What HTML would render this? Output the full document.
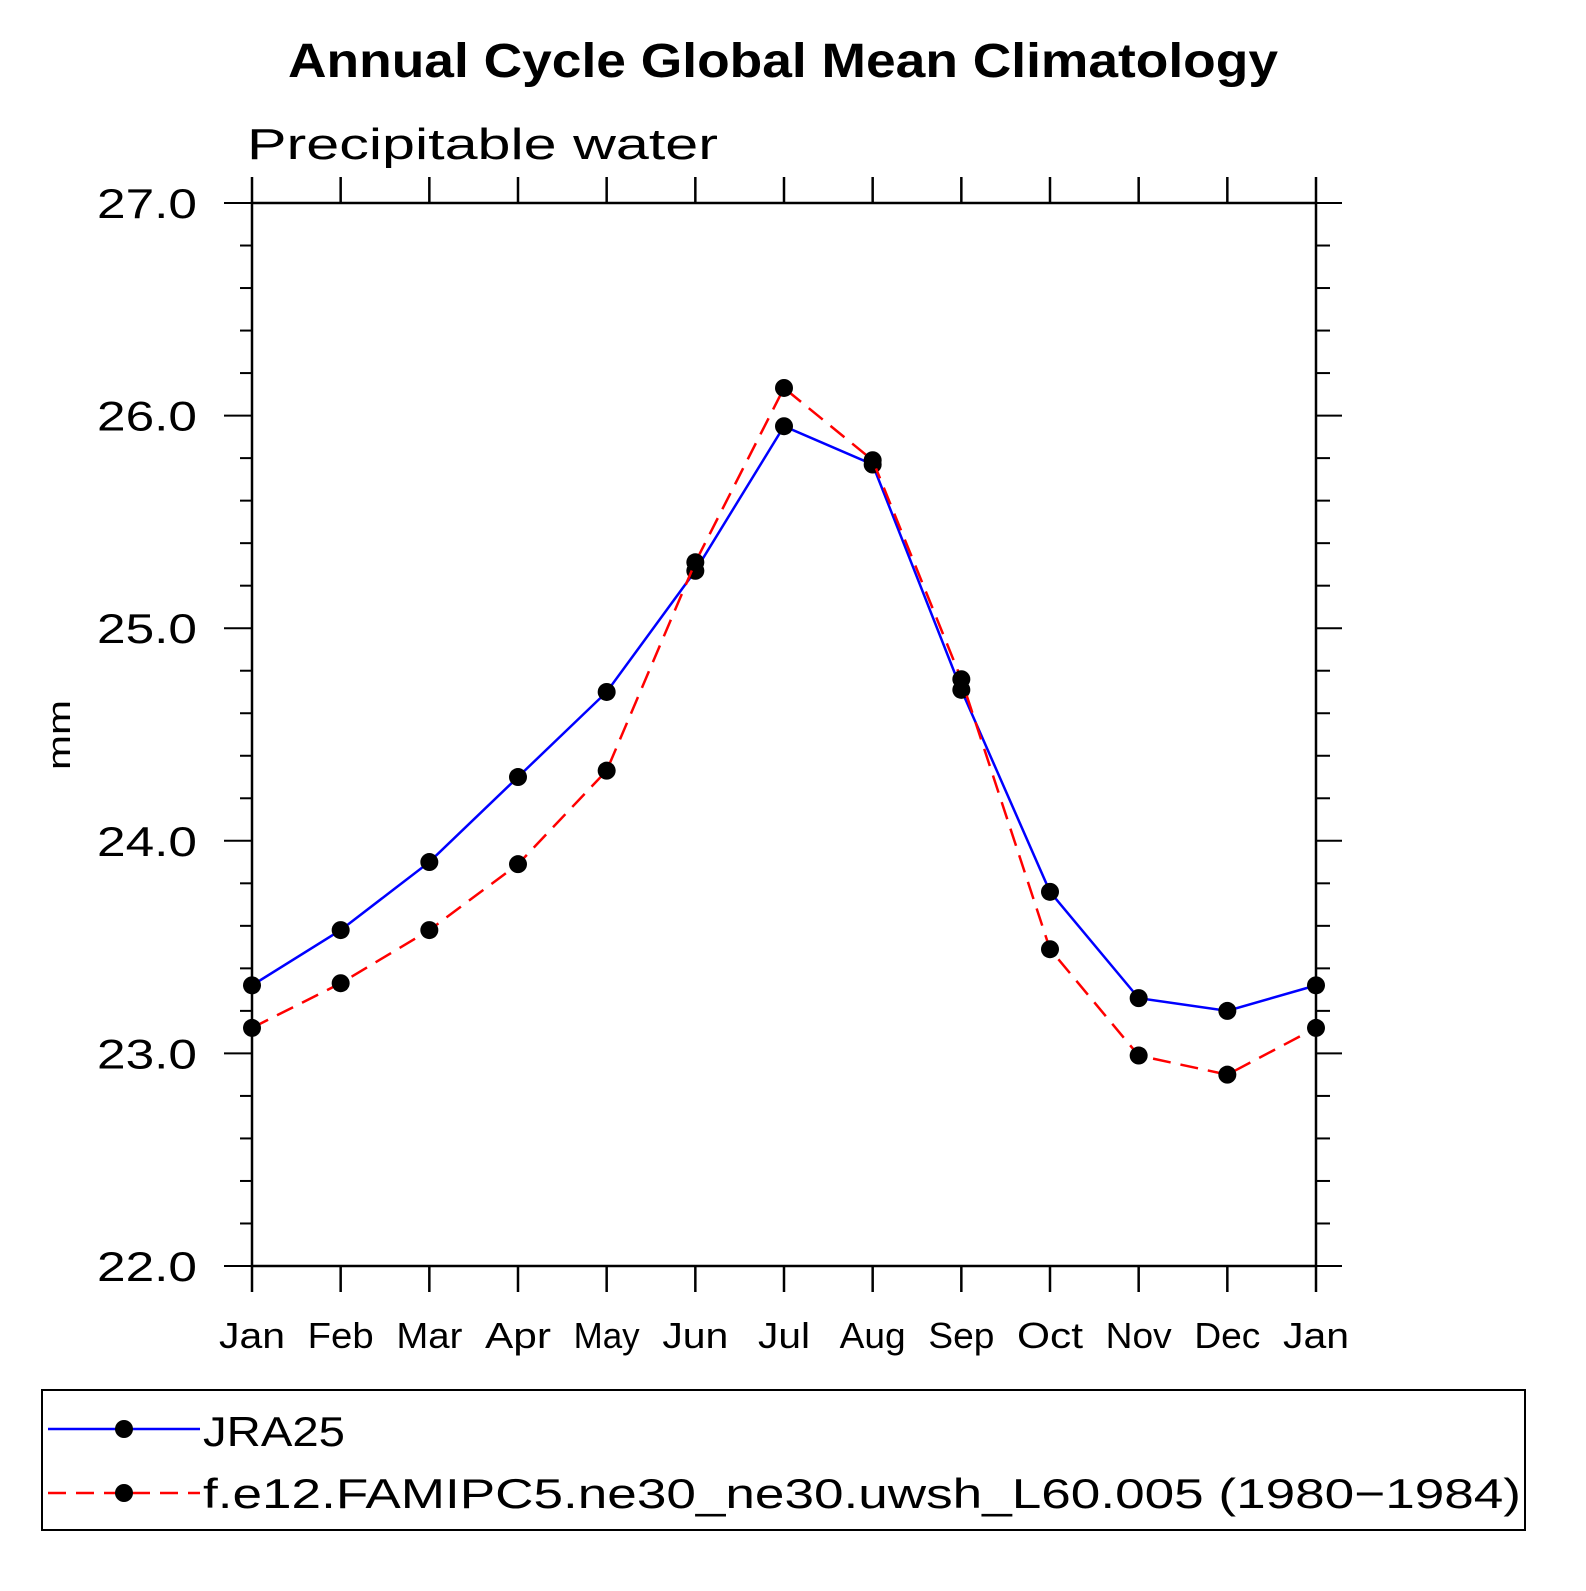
<!DOCTYPE html>
<html><head><meta charset="utf-8"><style>
body{margin:0;background:#fff}
svg text{font-family:"Liberation Sans",sans-serif}
</style></head><body>
<svg id="chart" width="1586" height="1586" viewBox="0 0 1586 1586" xmlns="http://www.w3.org/2000/svg">
<text x="288" y="77" font-size="48" font-weight="bold" textLength="990" lengthAdjust="spacingAndGlyphs">Annual Cycle Global Mean Climatology</text>
<text x="247" y="159" font-size="44" textLength="471" lengthAdjust="spacingAndGlyphs">Precipitable water</text>
<text transform="translate(70,735) rotate(-90)" text-anchor="middle" font-size="32" textLength="70" lengthAdjust="spacingAndGlyphs">mm</text>
<g id="axes"></g>
<g id="series"></g>
<g>
<rect x="42" y="1390" width="1483" height="140" fill="none" stroke="#000" stroke-width="2"/>
<g>
<line x1="48" y1="1429" x2="200" y2="1429" stroke="#00f" stroke-width="2.5"/>
<circle cx="124" cy="1429" r="9"/>
<text x="203" y="1446" font-size="42" textLength="142" lengthAdjust="spacingAndGlyphs">JRA25</text></g>
<g>
<line x1="48" y1="1493" x2="200" y2="1493" stroke="#f00" stroke-width="2.5" stroke-dasharray="18,10"/>
<circle cx="124" cy="1493" r="9"/>
<text x="203" y="1508" font-size="42" textLength="1318" lengthAdjust="spacingAndGlyphs">f.e12.FAMIPC5.ne30_ne30.uwsh_L60.005 (1980−1984)</text></g>
</g>
</svg>
<script>
const months=["Jan","Feb","Mar","Apr","May","Jun","Jul","Aug","Sep","Oct","Nov","Dec","Jan"];
const yTicks=["22.0","23.0","24.0","25.0","26.0","27.0"];
const jra25=[23.32,23.58,23.90,24.30,24.70,25.27,25.95,25.77,24.71,23.76,23.26,23.20,23.32];
const model=[23.12,23.33,23.58,23.89,24.33,25.31,26.13,25.79,24.76,23.49,22.99,22.90,23.12];
const X0=252,X1=1316,Y0=1266,Y1=203,YMIN=22,YMAX=27;
const xs=i=>X0+(X1-X0)*i/(months.length-1);
const ys=v=>Y0-(v-YMIN)/(YMAX-YMIN)*(Y0-Y1);
const NS="http://www.w3.org/2000/svg";
function mk(t,a,p){const e=document.createElementNS(NS,t);for(const k in a)e.setAttribute(k,a[k]);p.appendChild(e);return e;}
const ax=document.getElementById('axes');
const fr=mk('rect',{x:X0,y:Y1,width:X1-X0,height:Y0-Y1,fill:'none',stroke:'#000','stroke-width':2.5},ax);


months.forEach((m,i)=>{const x=xs(i);
mk('line',{x1:x,y1:Y0,x2:x,y2:Y0+26,stroke:'#000','stroke-width':2.5},ax);
mk('line',{x1:x,y1:Y1,x2:x,y2:Y1-26,stroke:'#000','stroke-width':2.5},ax);
const t=mk('text',{x:x-33,y:1348,'font-size':36,textLength:m==="Jul"?52:66,lengthAdjust:'spacingAndGlyphs'},ax);
if(m==="Jul")t.setAttribute('x',x-26);
t.textContent=m;

});
for(let v=YMIN;v<=YMAX+1e-9;v+=0.2){const y=ys(v);const major=Math.abs(v-Math.round(v))<1e-6;
mk('line',{x1:X0-(major?28:12),y1:y,x2:X0,y2:y,stroke:'#000','stroke-width':2},ax);
mk('line',{x1:X1,y1:y,x2:X1+(major?26:14),y2:y,stroke:'#000','stroke-width':2},ax);}
yTicks.forEach(s=>{const y=ys(parseFloat(s));const t=mk('text',{x:97,y:y+15,'font-size':42,textLength:100,lengthAdjust:'spacingAndGlyphs'},ax);t.textContent=s;

});
const se=document.getElementById('series');
function draw(vals,col,dash,name){const g=mk('g',{},se);


mk('polyline',{points:vals.map((v,i)=>xs(i)+','+ys(v)).join(' '),fill:'none',stroke:col,'stroke-width':2.5,'stroke-dasharray':dash},g);
vals.forEach((v,i)=>{const c=mk('circle',{cx:xs(i),cy:ys(v),r:9},g);

});}
draw(jra25,'#00f','none','jra25-series');
draw(model,'#f00','18,10','model-series');
</script>
</body></html>
